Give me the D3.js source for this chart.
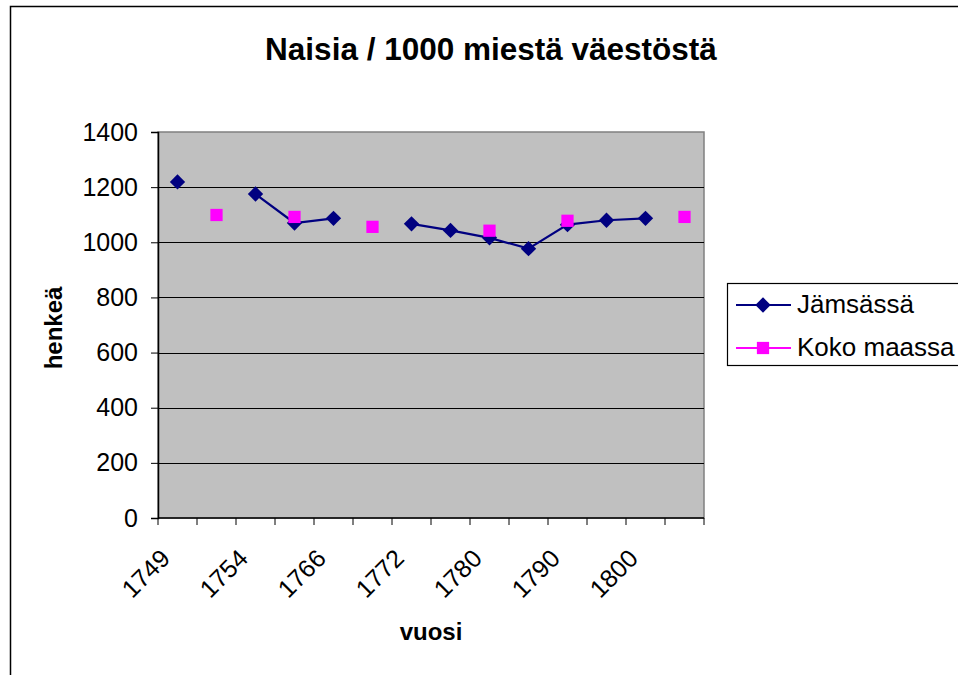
<!DOCTYPE html>
<html>
<head>
<meta charset="utf-8">
<script src="https://cdn.jsdelivr.net/npm/d3@7"></script>
<style>
  body { margin: 0; background: #fff; }
  text { font-family: "Liberation Sans", Arial, sans-serif; }
</style>
</head>
<body>
<div id="chart"></div>
<script>
// 14 category slots, only every second one is labelled in the original
const categories = ["1749", "", "1754", "", "1766", "", "1772", "", "1780", "", "1790", "", "1800", ""];
const jamsassa = [1219, null, 1175, 1070, 1087, null, 1067, 1043, 1016, 977, 1064, 1080, 1087, null];
const kokoMaassa = [null, 1099, null, 1092, null, 1056, null, null, 1042, null, 1078, null, null, 1092];
const yTicks = [0, 200, 400, 600, 800, 1000, 1200, 1400];

const W = 958, H = 675;
const plot = {left: 158, top: 132, right: 704, bottom: 518};

const svg = d3.select("#chart")
    .append("svg")
    .attr("width", W)
    .attr("height", H);

// chart area border (right/bottom fall outside the picture)
svg.append("rect")
    .attr("x", 10.5).attr("y", 6.5)
    .attr("width", 970).attr("height", 700)
    .attr("fill", "#fff")
    .attr("stroke", "#000")
    .attr("stroke-width", 1.5);

const x = d3.scaleBand()
    .domain(d3.range(categories.length))
    .range([plot.left, plot.right]);

const y = d3.scaleLinear()
    .domain([0, 1400])
    .range([plot.bottom, plot.top]);

// plot background
svg.append("rect")
    .attr("x", plot.left).attr("y", plot.top)
    .attr("width", plot.right - plot.left)
    .attr("height", plot.bottom - plot.top)
    .attr("fill", "#c0c0c0")
    .attr("stroke", "#808080")
    .attr("stroke-width", 1.5);

// gridlines
svg.append("g")
    .selectAll("line")
    .data(yTicks.filter(d => d > 0 && d < 1400))
    .join("line")
    .attr("x1", plot.left).attr("x2", plot.right)
    .attr("y1", d => Math.round(y(d)) + 0.5)
    .attr("y2", d => Math.round(y(d)) + 0.5)
    .attr("stroke", "#000");

// y axis
const yAxis = svg.append("g")
    .attr("transform", `translate(${plot.left},0)`)
    .call(d3.axisLeft(y).tickValues(yTicks).tickSize(7).tickPadding(13).tickFormat(d3.format("d")));
yAxis.select(".domain").attr("stroke", "#000").attr("stroke-width", 1.5);
yAxis.selectAll(".tick line").attr("stroke", "#000");
yAxis.selectAll(".tick text")
    .attr("font-size", 25)
    .attr("fill", "#000")
    .attr("font-family", "Liberation Sans, Arial, sans-serif");

// x axis: ticks at slot borders
const xAxisG = svg.append("g")
    .attr("transform", `translate(0,${plot.bottom})`);
xAxisG.append("line")
    .attr("x1", plot.left).attr("x2", plot.right)
    .attr("stroke", "#000").attr("stroke-width", 1.5);
xAxisG.selectAll(".xt")
    .data(d3.range(categories.length + 1))
    .join("line")
    .attr("class", "xt")
    .attr("x1", d => d < categories.length ? x(d) : plot.right)
    .attr("x2", d => d < categories.length ? x(d) : plot.right)
    .attr("y1", 0).attr("y2", 7)
    .attr("stroke", "#000");
xAxisG.selectAll(".xl")
    .data(d3.range(categories.length).filter(i => categories[i] !== ""))
    .join("text")
    .attr("class", "xl")
    .attr("transform", i => `translate(${x(i) + x.bandwidth() / 2 - 6},42) rotate(-45)`)
    .attr("text-anchor", "end")
    .attr("font-size", 25)
    .text(i => categories[i]);

const cx = i => x(i) + x.bandwidth() / 2;

// Jämsässä line + diamonds
const line = d3.line()
    .defined(d => d != null)
    .x((d, i) => cx(i))
    .y(d => y(d));

svg.append("path")
    .datum(jamsassa)
    .attr("fill", "none")
    .attr("stroke", "#000080")
    .attr("stroke-width", 2.2)
    .attr("d", line);

const diamond = d3.symbol().type(d3.symbolDiamond2).size(150);
const square = d3.symbol().type(d3.symbolSquare).size(150);

svg.append("g")
    .selectAll("path")
    .data(jamsassa.map((v, i) => ({v, i})).filter(d => d.v != null))
    .join("path")
    .attr("transform", d => `translate(${cx(d.i)},${y(d.v)})`)
    .attr("d", diamond)
    .attr("fill", "#000080");

svg.append("path")
    .datum(kokoMaassa)
    .attr("fill", "none")
    .attr("stroke", "#ff00ff")
    .attr("stroke-width", 2.2)
    .attr("d", line);

svg.append("g")
    .selectAll("path")
    .data(kokoMaassa.map((v, i) => ({v, i})).filter(d => d.v != null))
    .join("path")
    .attr("transform", d => `translate(${cx(d.i)},${y(d.v)})`)
    .attr("d", square)
    .attr("fill", "#ff00ff");

// titles
svg.append("text")
    .attr("x", 491).attr("y", 60)
    .attr("text-anchor", "middle")
    .attr("font-size", 31.5)
    .attr("font-weight", "bold")
    .text("Naisia / 1000 miestä väestöstä");

svg.append("text")
    .attr("x", 431).attr("y", 640)
    .attr("text-anchor", "middle")
    .attr("font-size", 24)
    .attr("font-weight", "bold")
    .text("vuosi");

svg.append("text")
    .attr("transform", "translate(62,328) rotate(-90)")
    .attr("text-anchor", "middle")
    .attr("font-size", 24)
    .attr("font-weight", "bold")
    .text("henkeä");

// legend
const legend = svg.append("g");
legend.append("rect")
    .attr("x", 727.5).attr("y", 283.5)
    .attr("width", 260).attr("height", 82)
    .attr("fill", "#fff")
    .attr("stroke", "#000")
    .attr("stroke-width", 1.2);

const series = [
    {name: "Jämsässä", color: "#000080", sym: diamond, y: 305},
    {name: "Koko maassa", color: "#ff00ff", sym: square, y: 348}
];
const item = legend.selectAll(".item")
    .data(series)
    .join("g")
    .attr("class", "item");
item.append("line")
    .attr("x1", 736).attr("x2", 791)
    .attr("y1", d => d.y).attr("y2", d => d.y)
    .attr("stroke", d => d.color)
    .attr("stroke-width", 2);
item.append("path")
    .attr("transform", d => `translate(763,${d.y})`)
    .attr("d", d => d.sym())
    .attr("fill", d => d.color);
item.append("text")
    .attr("x", 797)
    .attr("y", d => d.y + 8)
    .attr("font-size", 26)
    .text(d => d.name);
</script>
</body>
</html>
